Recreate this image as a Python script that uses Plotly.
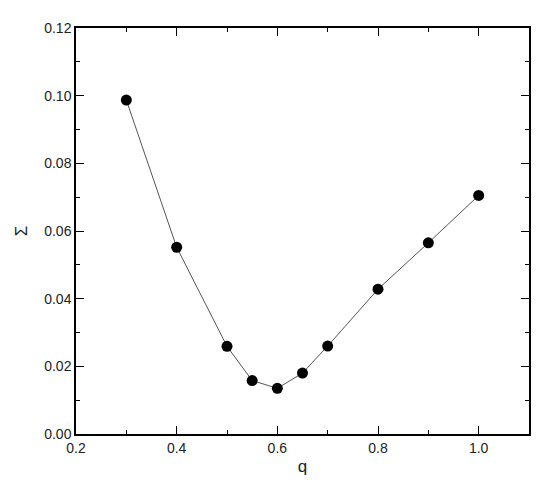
import plotly.graph_objects as go

q_values = [0.3, 0.4, 0.5, 0.55, 0.6, 0.65, 0.7, 0.8, 0.9, 1.0]
sigma_values = [0.0987, 0.0552, 0.0259, 0.0158, 0.0135, 0.0180, 0.0260, 0.0428, 0.0565, 0.0705]

fig = go.Figure()
fig.add_trace(go.Scatter(
    x=q_values, y=sigma_values, mode='lines+markers',
    line=dict(color='#555555', width=1),
    marker=dict(color='black', size=11),
    showlegend=False,
))

axis_style = dict(
    showline=True, linecolor='black', linewidth=1.5, mirror='ticks',
    ticks='inside', ticklen=8, tickwidth=1.2, tickcolor='black',
    showgrid=False, zeroline=False,
    tickfont=dict(family='Liberation Sans, Arial, sans-serif', size=14, color='#222222'),
    title_font=dict(family='Liberation Sans, Arial, sans-serif', size=17, color='#222222'),
)

fig.update_xaxes(axis_style, range=[0.2, 1.1], dtick=0.2, tick0=0.2, tickformat='.1f',
                 minor=dict(dtick=0.1, tick0=0.2, ticklen=4, ticks='inside', tickcolor='black', tickwidth=1),
                 title_text='q', title_standoff=6)
fig.update_yaxes(axis_style, range=[0, 0.12], dtick=0.02, tickformat='.2f',
                 minor=dict(dtick=0.01, ticklen=4, ticks='inside', tickcolor='black', tickwidth=1),
                 title_text='Σ', title_standoff=12)

# page body adds an 8px margin, so shift everything up/left
fig.update_layout(
    width=557, height=488,
    margin=dict(l=64, r=36, t=16, b=62),
    plot_bgcolor='white', paper_bgcolor='white',
)

fig.write_html("out.html")
